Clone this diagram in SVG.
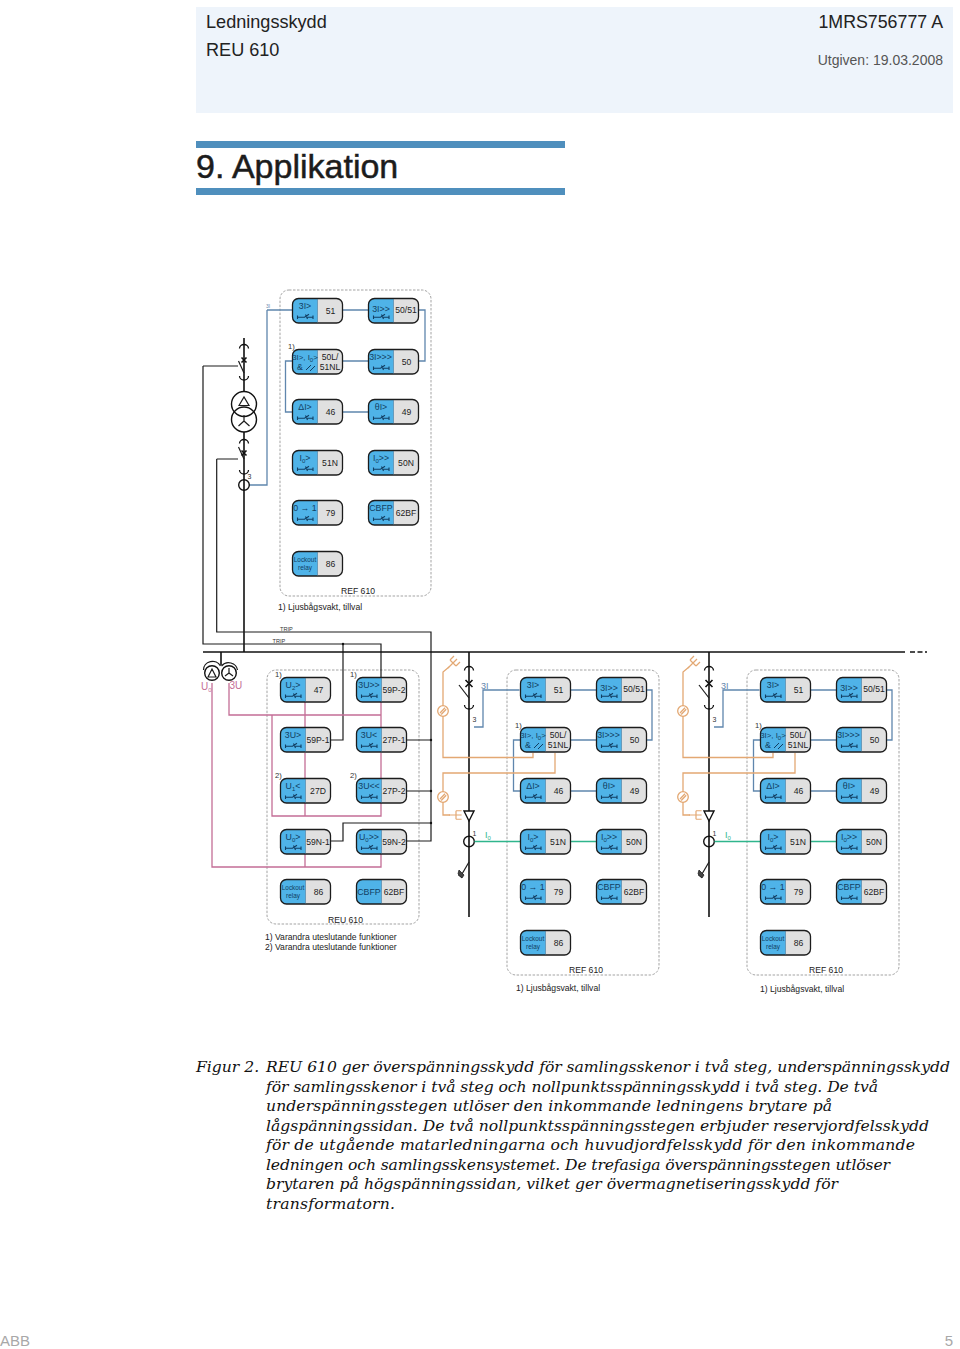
<svg xmlns="http://www.w3.org/2000/svg" xmlns:xlink="http://www.w3.org/1999/xlink" width="960" height="1349" viewBox="0 0 960 1349">
<style>
text{font-family:"Liberation Sans",Arial,sans-serif}
.k{fill:none;stroke:#1c1c1c;stroke-width:1.2}
.kb{fill:none;stroke:#111;stroke-width:1.6}
.b{fill:none;stroke:#5f86ad;stroke-width:1.3}
.p{fill:none;stroke:#c46e96;stroke-width:1.3}
.o{fill:none;stroke:#e3a873;stroke-width:1.3}
.g{fill:none;stroke:#2fb58c;stroke-width:1.4}
.fr{fill:#fff;stroke:#999;stroke-width:.9;stroke-dasharray:2.5 1.5}
.L{font-size:8.800px;fill:#123f63;text-anchor:middle}
.L2{font-size:7.800px;fill:#123f63;text-anchor:middle}
.R{font-size:8.600px;fill:#222;text-anchor:middle}
.T{font-size:6.400px;fill:#123f63;text-anchor:middle}
.s{font-size:6px}
.n{font-size:7.600px;fill:#333}
.c{font-size:8.600px;fill:#222}
.ct{font-size:8.600px;fill:#222;text-anchor:middle}
.tr{font-size:5.600px;fill:#333}
.cap{font-family:"DejaVu Serif",serif;font-style:italic;font-size:15.600px;fill:#111}
</style>
<defs>
<g id="base">
<path d="M25.500 .5H6a5.500 5.500 0 0 0-5.500 5.500V19.500a5.500 5.500 0 0 0 5.500 5.500H25.500Z" fill="#4fb3e8"/>
<path d="M25.500 .5H45a5.500 5.500 0 0 1 5.500 5.500V19.500a5.500 5.500 0 0 1-5.500 5.500H25.500Z" fill="#e0e0e0"/>
<rect x=".5" y=".5" width="50" height="24.500" rx="6" fill="none" stroke="#1c1c1c" stroke-width="1.300"/>
<path d="M25.500 1V24.500" stroke="#2a6f9c" stroke-width=".6"/>
</g>
<g id="sw" fill="none" stroke="#123f63" stroke-width="1.100">
<path d="M5.500 17.500v3.500M5.500 19.300h7l4.500-3M15 19.300h6M21 17.500v3.500M13.500 16.500l2 4.500"/>
</g>
<g id="ct"><circle cx="0" cy="0" r="5.300" fill="none" stroke="#111" stroke-width="1.400"/></g>
<g id="arcd" fill="none" stroke="#111" stroke-width="1.300"><path d="M-4.500 -1.500a4.500 4 0 0 1 9 0"/></g>
<g id="arcu" fill="none" stroke="#111" stroke-width="1.300"><path d="M-4.500 -2a4.500 4 0 0 0 9 0"/></g>
<g id="lamp" fill="#fff" stroke="#e3a873" stroke-width="1.300"><circle r="5.300"/><path d="M-3 2L2 -3.200M-1.800 3.500L3.200 -1.800"/></g>
<g id="earth" fill="none" stroke="#e3a873" stroke-width="1.200"><path d="M-5 5L0 0M-3 -3Q0 0 3 3M-3 -3L1 -7M0 0L4 -4M3 3L7 -1"/></g>
</defs>

<g id="header">
<rect x="196" y="7" width="757" height="106" fill="#eef4fb"/>
<text x="206" y="28" font-size="18.100" fill="#222">Ledningsskydd</text>
<text x="206" y="56" font-size="18.100" fill="#222">REU 610</text>
<text x="943" y="28" font-size="17.800" fill="#222" text-anchor="end">1MRS756777 A</text>
<text x="943" y="65" font-size="14" fill="#555" text-anchor="end">Utgiven: 19.03.2008</text>
<rect x="196" y="141" width="369" height="7" fill="#4f8fbd"/>
<rect x="196" y="188" width="369" height="7" fill="#4f8fbd"/>
<text x="196" y="178" font-size="34" fill="#1c1c1c" stroke="#1c1c1c" stroke-width=".5">9. Applikation</text>
</g>

<g id="frames">
<rect x="280" y="290" width="151" height="306" rx="9" class="fr"/>
<rect x="267" y="670" width="152" height="254" rx="9" class="fr"/>
<rect x="507" y="670" width="152" height="305" rx="9" class="fr"/>
<rect x="747" y="670" width="152" height="305" rx="9" class="fr"/>
</g>

<g id="connectors">
<g id="conn-transformer">
<path class="b" d="M267 310V485H249M267 310H292M343 310H368M419 310H425V361H419M343 361H368M292 361H285.500V412H292M343 412H368"/>
<path class="kb" d="M244 338V391.500M244 432V652"/>
<path class="k" d="M238.500 447L244 459M238.500 361L244 373"/>
<path class="k" d="M203 366H238M203 366V644H381V677M343 644V740H331"/>
<path class="k" d="M216.700 459H238M216.700 459V632H431V841H406M406 740H431M406 791H431M331 841H343V823H431"/>
<path class="kb" d="M203 652H905"/>
<path class="kb" stroke-dasharray="5 2.500" d="M910 652H927"/>
<path class="kb" d="M221 652V665"/>
<circle cx="343" cy="644" r="1.200" fill="#111"/><circle cx="431" cy="740" r="1.200" fill="#111"/><circle cx="431" cy="791" r="1.200" fill="#111"/><circle cx="431" cy="823" r="1.200" fill="#111"/>
<use href="#arcd" x="244" y="350"/><use href="#arcu" x="244" y="378"/>
<path class="kb" d="M241.500 357.500l5 5M246.500 357.500l-5 5M241.500 450.500l5 5M246.500 450.500l-5 5"/>
<use href="#arcd" x="244" y="445"/><use href="#arcu" x="244" y="472"/>
<circle cx="244" cy="404" r="12.500" fill="#fff" stroke="#111" stroke-width="1.400"/>
<circle cx="244" cy="419.500" r="12.500" fill="none" stroke="#111" stroke-width="1.400"/>
<path class="k" d="M239 405.500L244 397L249 405.500Z"/>
<path class="k" d="M244 415V421M244 421L238.500 426M244 421L249.500 426"/>
<use href="#ct" x="244" y="485"/>
</g>
<g id="conn-vt">
<path class="p" d="M212 683V867H381V854M305 867V854M229 683V715H381M305 702V727M381 702V727M305 753V778M381 753V778M272 715V816H381V803M305 816V803"/>
<circle cx="212" cy="673" r="7.300" fill="#fff" stroke="#111" stroke-width="1.400"/>
<circle cx="229" cy="673" r="7.300" fill="#fff" stroke="#111" stroke-width="1.400"/>
<path class="k" d="M208 677L212 669L216 677ZM229 673V668M229 673L225 676M229 673L233 676"/>
<path class="k" d="M203.500 670a9 8.500 0 0 1 17 -4M221.500 666a9 8.500 0 0 1 16 4"/>
</g>
<g id="conn-feeder-1">
<path class="kb" d="M469 652V917"/>
<use href="#arcd" x="469" y="672"/><use href="#arcu" x="469" y="707"/>
<path class="k" d="M459 685L469 698"/>
<path class="kb" d="M465.500 680l7 7M472.500 680l-7 7"/>
<path class="b" d="M474 727H483V690H519.500M571 690H596M647 690H652V740H647M571 740H596M520 740H513.500V791H520M571 791H596"/>
<path class="o" d="M449 667L443 672V757.500H533V753M555 753V773H443V815H450"/>
<use href="#earth" x="453" y="663"/><use href="#lamp" x="443" y="711"/><use href="#lamp" x="443" y="797"/>
<use href="#earth" transform="translate(456 815) rotate(45)"/>
<path d="M464 811H474L469 821Z" fill="#fff" stroke="#111" stroke-width="1.400"/>
<use href="#ct" x="469" y="841.500"/>
<path class="g" d="M474.500 841.500H520M571 841.500H596"/>
<path class="k" d="M469 862L462 874"/>
<path d="M459 870l5 5 -2 3 -4 -4ZM458 875l4 3" fill="#444" stroke="#222" stroke-width=".8"/>
</g>
<g id="conn-feeder-2" transform="translate(240)">
<path class="kb" d="M469 652V917"/>
<use href="#arcd" x="469" y="672"/><use href="#arcu" x="469" y="707"/>
<path class="k" d="M459 685L469 698"/>
<path class="kb" d="M465.500 680l7 7M472.500 680l-7 7"/>
<path class="b" d="M474 727H483V690H519.500M571 690H596M647 690H652V740H647M571 740H596M520 740H513.500V791H520M571 791H596"/>
<path class="o" d="M449 667L443 672V757.500H533V753M555 753V773H443V815H450"/>
<use href="#earth" x="453" y="663"/><use href="#lamp" x="443" y="711"/><use href="#lamp" x="443" y="797"/>
<use href="#earth" transform="translate(456 815) rotate(45)"/>
<path d="M464 811H474L469 821Z" fill="#fff" stroke="#111" stroke-width="1.400"/>
<use href="#ct" x="469" y="841.500"/>
<path class="g" d="M474.500 841.500H520M571 841.500H596"/>
<path class="k" d="M469 862L462 874"/>
<path d="M459 870l5 5 -2 3 -4 -4ZM458 875l4 3" fill="#444" stroke="#222" stroke-width=".8"/>
</g>
</g>

<g id="line-labels">
<text x="266" y="308" font-size="5" fill="#5f86ad">3I</text>
<text x="247.500" y="479" font-size="7" fill="#333">3</text>
<text x="280" y="631" class="tr">TRIP</text>
<text x="272.500" y="643" class="tr">TRIP</text>
<text x="201" y="690" font-size="10" fill="#c46e96">U<tspan class="s" dy="2">0</tspan></text>
<text x="229.500" y="689" font-size="10" fill="#c46e96">3U</text>
<text x="481" y="689" font-size="9" fill="#5f86ad">3I</text>
<text x="472.500" y="722" font-size="7" fill="#333">3</text>
<text x="472.500" y="836" font-size="7" fill="#333">1</text>
<text x="485" y="838" font-size="9" fill="#2fb58c">I<tspan class="s" dy="2">0</tspan></text>
<text x="721" y="689" font-size="9" fill="#5f86ad">3I</text>
<text x="712.500" y="722" font-size="7" fill="#333">3</text>
<text x="712.500" y="836" font-size="7" fill="#333">1</text>
<text x="725" y="838" font-size="9" fill="#2fb58c">I<tspan class="s" dy="2">0</tspan></text>
<text x="288" y="349" class="n">1)</text>
<text x="275" y="677" class="n">1)</text><text x="350" y="677" class="n">1)</text>
<text x="275" y="778" class="n">2)</text><text x="350" y="778" class="n">2)</text>
<text x="515" y="728" class="n">1)</text><text x="755" y="728" class="n">1)</text>
<text x="358" y="594" class="ct">REF 610</text>
<text x="278" y="610" class="c">1) Ljusbågsvakt, tillval</text>
<text x="345.500" y="923" class="ct">REU 610</text>
<text x="265" y="939.500" class="c">1) Varandra uteslutande funktioner</text>
<text x="265" y="950" class="c">2) Varandra uteslutande funktioner</text>
<text x="586" y="973" class="ct">REF 610</text>
<text x="516" y="990.500" class="c">1) Ljusbågsvakt, tillval</text>
<text x="826" y="973" class="ct">REF 610</text>
<text x="760" y="991.500" class="c">1) Ljusbågsvakt, tillval</text>
</g>

<g id="nodes-ref-top">
<g id="t51" transform="translate(292 298)"><use href="#base"/><use href="#sw"/><text class="L" x="13" y="11">3I&gt;</text><text class="R" x="38.500" y="15.500">51</text></g>
<g id="t5051" transform="translate(368 298)"><use href="#base"/><use href="#sw"/><text class="L" x="13" y="14">3I&gt;&gt;</text><text class="R" x="38" y="14.500">50/51</text></g>
<g id="t50L" transform="translate(292 349)"><use href="#base"/><text class="L2" x="13" y="11">3I&gt;, I<tspan class="s" dy="2">0</tspan><tspan dy="-2">&gt;</tspan></text><text class="L" x="8" y="21">&amp;</text><path d="M14 21l5 -5M18 22l5 -5" stroke="#123f63" fill="none"/><text class="R" x="38" y="11">50L/</text><text class="R" x="38" y="21">51NL</text></g>
<g id="t50" transform="translate(368 349)"><use href="#base"/><use href="#sw"/><text class="L" x="12.500" y="11">3I&gt;&gt;&gt;</text><text class="R" x="38.500" y="15.500">50</text></g>
<g id="t46" transform="translate(292 399)"><use href="#base"/><use href="#sw"/><text class="L" x="13" y="11">ΔI&gt;</text><text class="R" x="38.500" y="15.500">46</text></g>
<g id="t49" transform="translate(368 399)"><use href="#base"/><use href="#sw"/><text class="L" x="13" y="11">θI&gt;</text><text class="R" x="38.500" y="15.500">49</text></g>
<g id="t51N" transform="translate(292 450)"><use href="#base"/><use href="#sw"/><text class="L" x="13" y="11">I<tspan class="s" dy="2">0</tspan><tspan dy="-2">&gt;</tspan></text><text class="R" x="38" y="15.500">51N</text></g>
<g id="t50N" transform="translate(368 450)"><use href="#base"/><use href="#sw"/><text class="L" x="13" y="11">I<tspan class="s" dy="2">0</tspan><tspan dy="-2">&gt;&gt;</tspan></text><text class="R" x="38" y="15.500">50N</text></g>
<g id="t79" transform="translate(292 500)"><use href="#base"/><use href="#sw"/><text class="L" x="13" y="11">0 → 1</text><text class="R" x="38.500" y="15.500">79</text></g>
<g id="t62BF" transform="translate(368 500)"><use href="#base"/><use href="#sw"/><text class="L" x="13" y="11">CBFP</text><text class="R" x="38" y="15.500">62BF</text></g>
<g id="t86" transform="translate(292 551)"><use href="#base"/><text class="T" x="13" y="11">Lockout</text><text class="T" x="13" y="18.500">relay</text><text class="R" x="38.500" y="15.500">86</text></g>
</g>

<g id="nodes-reu">
<g id="u47" transform="translate(280 677)"><use href="#base"/><use href="#sw"/><text class="L" x="13" y="11">U<tspan class="s" dy="2">2</tspan><tspan dy="-2">&gt;</tspan></text><text class="R" x="38.500" y="15.500">47</text></g>
<g id="u59P2" transform="translate(356 677)"><use href="#base"/><use href="#sw"/><text class="L" x="13" y="11">3U&gt;&gt;</text><text class="R" x="38" y="15.500">59P-2</text></g>
<g id="u59P1" transform="translate(280 727)"><use href="#base"/><use href="#sw"/><text class="L" x="13" y="11">3U&gt;</text><text class="R" x="38" y="15.500">59P-1</text></g>
<g id="u27P1" transform="translate(356 727)"><use href="#base"/><use href="#sw"/><text class="L" x="13" y="11">3U&lt;</text><text class="R" x="38" y="15.500">27P-1</text></g>
<g id="u27D" transform="translate(280 778)"><use href="#base"/><use href="#sw"/><text class="L" x="13" y="11">U<tspan class="s" dy="2">1</tspan><tspan dy="-2">&lt;</tspan></text><text class="R" x="38" y="15.500">27D</text></g>
<g id="u27P2" transform="translate(356 778)"><use href="#base"/><use href="#sw"/><text class="L" x="13" y="11">3U&lt;&lt;</text><text class="R" x="38" y="15.500">27P-2</text></g>
<g id="u59N1" transform="translate(280 829)"><use href="#base"/><use href="#sw"/><text class="L" x="13" y="11">U<tspan class="s" dy="2">0</tspan><tspan dy="-2">&gt;</tspan></text><text class="R" x="38" y="15.500">59N-1</text></g>
<g id="u59N2" transform="translate(356 829)"><use href="#base"/><use href="#sw"/><text class="L" x="13" y="11">U<tspan class="s" dy="2">0</tspan><tspan dy="-2">&gt;&gt;</tspan></text><text class="R" x="38" y="15.500">59N-2</text></g>
<g id="u86" transform="translate(280 879)"><use href="#base"/><text class="T" x="13" y="11">Lockout</text><text class="T" x="13" y="18.500">relay</text><text class="R" x="38.500" y="15.500">86</text></g>
<g id="u62BF" transform="translate(356 879)"><use href="#base"/><text class="L" x="13" y="16">CBFP</text><text class="R" x="38" y="15.500">62BF</text></g>
</g>

<g id="nodes-ref-a">
<g id="a51" transform="translate(520 677)"><use href="#base"/><use href="#sw"/><text class="L" x="13" y="11">3I&gt;</text><text class="R" x="38.500" y="15.500">51</text></g>
<g id="a5051" transform="translate(596 677)"><use href="#base"/><use href="#sw"/><text class="L" x="13" y="14">3I&gt;&gt;</text><text class="R" x="38" y="14.500">50/51</text></g>
<g id="a50L" transform="translate(520 727)"><use href="#base"/><text class="L2" x="13" y="11">3I&gt;, I<tspan class="s" dy="2">0</tspan><tspan dy="-2">&gt;</tspan></text><text class="L" x="8" y="21">&amp;</text><path d="M14 21l5 -5M18 22l5 -5" stroke="#123f63" fill="none"/><text class="R" x="38" y="11">50L/</text><text class="R" x="38" y="21">51NL</text></g>
<g id="a50" transform="translate(596 727)"><use href="#base"/><use href="#sw"/><text class="L" x="12.500" y="11">3I&gt;&gt;&gt;</text><text class="R" x="38.500" y="15.500">50</text></g>
<g id="a46" transform="translate(520 778)"><use href="#base"/><use href="#sw"/><text class="L" x="13" y="11">ΔI&gt;</text><text class="R" x="38.500" y="15.500">46</text></g>
<g id="a49" transform="translate(596 778)"><use href="#base"/><use href="#sw"/><text class="L" x="13" y="11">θI&gt;</text><text class="R" x="38.500" y="15.500">49</text></g>
<g id="a51N" transform="translate(520 829)"><use href="#base"/><use href="#sw"/><text class="L" x="13" y="11">I<tspan class="s" dy="2">0</tspan><tspan dy="-2">&gt;</tspan></text><text class="R" x="38" y="15.500">51N</text></g>
<g id="a50N" transform="translate(596 829)"><use href="#base"/><use href="#sw"/><text class="L" x="13" y="11">I<tspan class="s" dy="2">0</tspan><tspan dy="-2">&gt;&gt;</tspan></text><text class="R" x="38" y="15.500">50N</text></g>
<g id="a79" transform="translate(520 879)"><use href="#base"/><use href="#sw"/><text class="L" x="13" y="11">0 → 1</text><text class="R" x="38.500" y="15.500">79</text></g>
<g id="a62BF" transform="translate(596 879)"><use href="#base"/><use href="#sw"/><text class="L" x="13" y="11">CBFP</text><text class="R" x="38" y="15.500">62BF</text></g>
<g id="a86" transform="translate(520 930)"><use href="#base"/><text class="T" x="13" y="11">Lockout</text><text class="T" x="13" y="18.500">relay</text><text class="R" x="38.500" y="15.500">86</text></g>
</g>

<g id="nodes-ref-b">
<g id="b51" transform="translate(760 677)"><use href="#base"/><use href="#sw"/><text class="L" x="13" y="11">3I&gt;</text><text class="R" x="38.500" y="15.500">51</text></g>
<g id="b5051" transform="translate(836 677)"><use href="#base"/><use href="#sw"/><text class="L" x="13" y="14">3I&gt;&gt;</text><text class="R" x="38" y="14.500">50/51</text></g>
<g id="b50L" transform="translate(760 727)"><use href="#base"/><text class="L2" x="13" y="11">3I&gt;, I<tspan class="s" dy="2">0</tspan><tspan dy="-2">&gt;</tspan></text><text class="L" x="8" y="21">&amp;</text><path d="M14 21l5 -5M18 22l5 -5" stroke="#123f63" fill="none"/><text class="R" x="38" y="11">50L/</text><text class="R" x="38" y="21">51NL</text></g>
<g id="b50" transform="translate(836 727)"><use href="#base"/><use href="#sw"/><text class="L" x="12.500" y="11">3I&gt;&gt;&gt;</text><text class="R" x="38.500" y="15.500">50</text></g>
<g id="b46" transform="translate(760 778)"><use href="#base"/><use href="#sw"/><text class="L" x="13" y="11">ΔI&gt;</text><text class="R" x="38.500" y="15.500">46</text></g>
<g id="b49" transform="translate(836 778)"><use href="#base"/><use href="#sw"/><text class="L" x="13" y="11">θI&gt;</text><text class="R" x="38.500" y="15.500">49</text></g>
<g id="b51N" transform="translate(760 829)"><use href="#base"/><use href="#sw"/><text class="L" x="13" y="11">I<tspan class="s" dy="2">0</tspan><tspan dy="-2">&gt;</tspan></text><text class="R" x="38" y="15.500">51N</text></g>
<g id="b50N" transform="translate(836 829)"><use href="#base"/><use href="#sw"/><text class="L" x="13" y="11">I<tspan class="s" dy="2">0</tspan><tspan dy="-2">&gt;&gt;</tspan></text><text class="R" x="38" y="15.500">50N</text></g>
<g id="b79" transform="translate(760 879)"><use href="#base"/><use href="#sw"/><text class="L" x="13" y="11">0 → 1</text><text class="R" x="38.500" y="15.500">79</text></g>
<g id="b62BF" transform="translate(836 879)"><use href="#base"/><use href="#sw"/><text class="L" x="13" y="11">CBFP</text><text class="R" x="38" y="15.500">62BF</text></g>
<g id="b86" transform="translate(760 930)"><use href="#base"/><text class="T" x="13" y="11">Lockout</text><text class="T" x="13" y="18.500">relay</text><text class="R" x="38.500" y="15.500">86</text></g>
</g>

<g id="caption">
<text class="cap" x="196" y="1072">Figur 2.</text>
<text class="cap" x="266" y="1072" textLength="684" lengthAdjust="spacing">REU 610 ger överspänningsskydd för samlingsskenor i två steg, underspänningsskydd</text>
<text class="cap" x="266" y="1092" textLength="612" lengthAdjust="spacing">för samlingsskenor i två steg och nollpunktsspänningsskydd i två steg. De två</text>
<text class="cap" x="266" y="1111" textLength="566" lengthAdjust="spacing">underspänningsstegen utlöser den inkommande ledningens brytare på</text>
<text class="cap" x="266" y="1131" textLength="663" lengthAdjust="spacing">lågspänningssidan. De två nollpunktsspänningsstegen erbjuder reservjordfelsskydd</text>
<text class="cap" x="266" y="1150" textLength="649" lengthAdjust="spacing">för de utgående matarledningarna och huvudjordfelsskydd för den inkommande</text>
<text class="cap" x="266" y="1170" textLength="624" lengthAdjust="spacing">ledningen och samlingsskensystemet. De trefasiga överspänningsstegen utlöser</text>
<text class="cap" x="266" y="1189" textLength="572" lengthAdjust="spacing">brytaren på högspänningssidan, vilket ger övermagnetiseringsskydd för</text>
<text class="cap" x="266" y="1209" textLength="129" lengthAdjust="spacing">transformatorn.</text>
</g>

<g id="footer">
<text x="0" y="1346" font-size="15" fill="#a8a8a8">ABB</text>
<text x="953" y="1346" font-size="15" fill="#a8a8a8" text-anchor="end">5</text>
</g>
</svg>
